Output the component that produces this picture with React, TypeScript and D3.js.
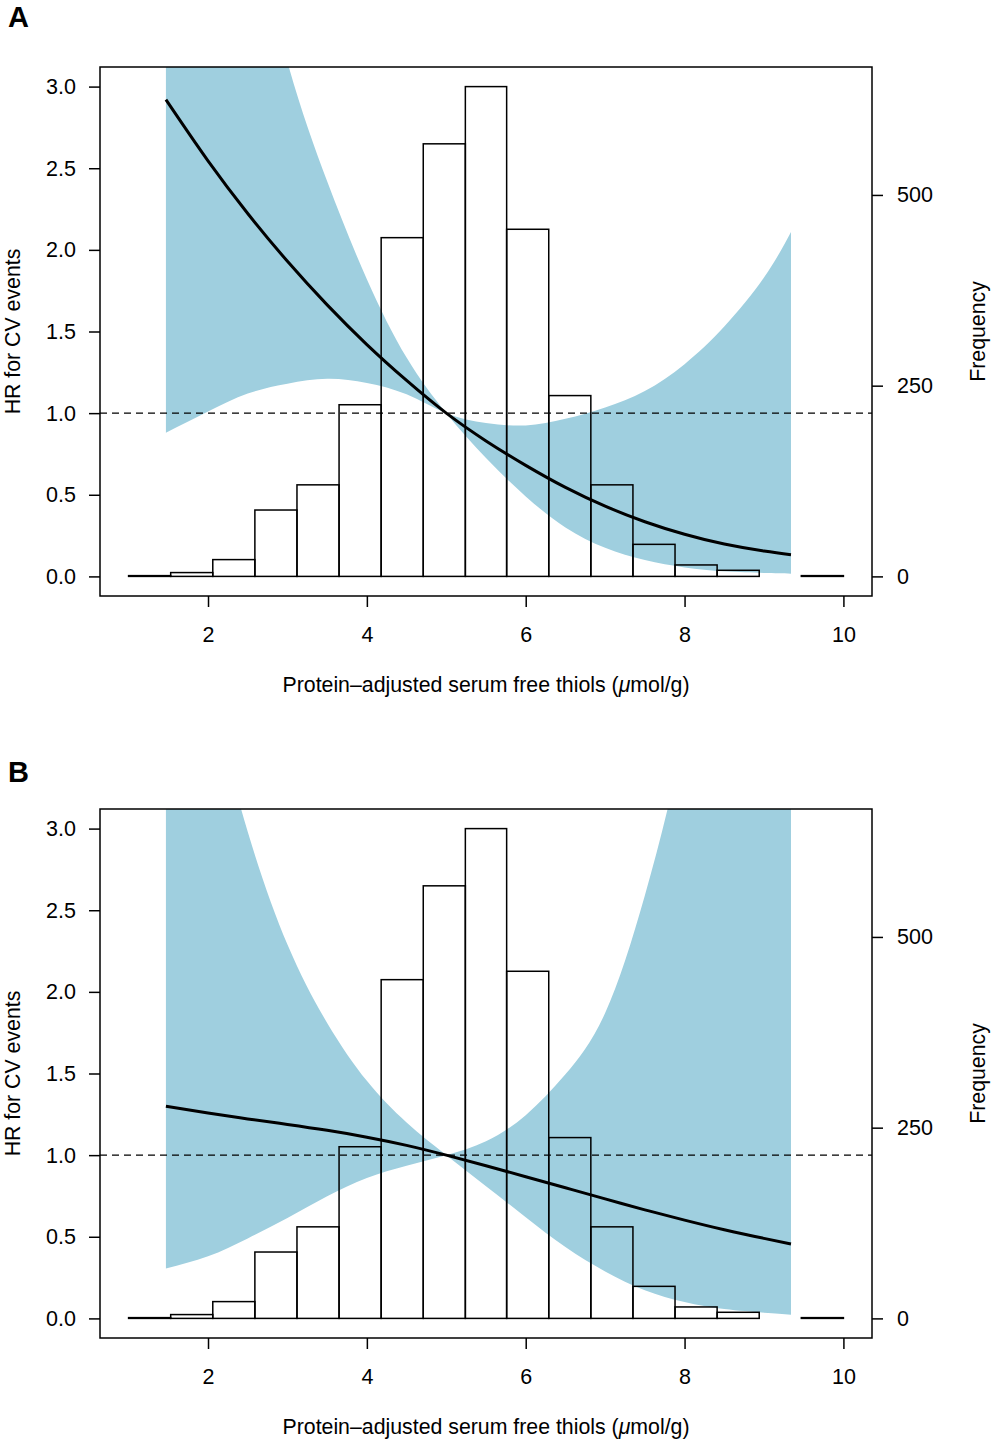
import { useEffect, useRef } from "react"
import * as d3 from "d3"

// histogram of protein-adjusted serum free thiols (same in both panels)
const binEdges = [1.0, 1.53, 2.06, 2.59, 3.12, 3.65, 4.18, 4.71, 5.24, 5.76, 6.29, 6.82, 7.35, 7.88, 8.41, 8.94, 9.47, 10.0]
const binCounts = [1, 5, 22, 87, 120, 225, 444, 567, 642, 455, 237, 120, 42, 15, 8, 0, 1]

// spline evaluation points (x) and HR with 95% CI bounds
const thiolGrid = [1.47, 2, 2.5, 3, 3.5, 4, 4.5, 5, 5.5, 6, 6.5, 7, 7.5, 8, 8.5, 9, 9.34]

const hrA = [2.92, 2.545, 2.223, 1.93, 1.663, 1.42, 1.2, 1.0, 0.83, 0.68, 0.545, 0.43, 0.335, 0.258, 0.198, 0.155, 0.133]
const ciA1 = [7.9, 5.7, 4.2, 3.15, 2.42, 1.82, 1.34, 1.0, 0.725, 0.49, 0.3, 0.175, 0.1, 0.055, 0.031, 0.021, 0.017]
const ciA2 = [0.88, 1.01, 1.12, 1.18, 1.21, 1.185, 1.115, 1.0, 0.94, 0.925, 0.965, 1.035, 1.135, 1.3, 1.53, 1.83, 2.11]

const hrB = [1.3, 1.258, 1.222, 1.188, 1.152, 1.11, 1.06, 1.0, 0.935, 0.868, 0.8, 0.732, 0.665, 0.602, 0.543, 0.49, 0.456]
const ciB1 = [5.3, 3.95, 2.98, 2.29, 1.81, 1.455, 1.2, 1.0, 0.81, 0.62, 0.437, 0.288, 0.173, 0.1, 0.057, 0.035, 0.023]
const ciB2 = [0.306, 0.38, 0.49, 0.615, 0.748, 0.86, 0.935, 1.0, 1.085, 1.245, 1.495, 1.87, 2.59, 3.58, 5.0, 7.0, 8.8]

const hrTicks = [0, 0.5, 1, 1.5, 2, 2.5, 3]
const freqTicks = [0, 250, 500]
const thiolTicks = [2, 4, 6, 8, 10]

const panels = [
  { label: "A", hr: hrA, ci1: ciA1, ci2: ciA2, offset: 0, letterY: 27 },
  { label: "B", hr: hrB, ci1: ciB1, ci2: ciB2, offset: 742, letterY: 40 },
]

const WIDTH = 992
const HEIGHT = 1443
const FONT = '"Liberation Sans", Arial, Helvetica, sans-serif'
const BAND = "#9fcfdf"

export default function App() {
  const svgRef = useRef<SVGSVGElement>(null)

  useEffect(() => {
    if (!svgRef.current) return
    const svg = d3.select(svgRef.current)
    svg.selectAll("*").remove()

    const box = { left: 100, right: 872, top: 67, bottom: 596 }

    const x = d3.scaleLinear().domain([0.64, 10.36]).range([box.left, box.right])
    const y = d3.scaleLinear().domain([-0.12, 3.12]).range([box.bottom, box.top])
    const yFreq = d3.scaleLinear().domain([-25.7, 667.7]).range([box.bottom, box.top])

    panels.forEach((p) => {
      const g = svg.append("g").attr("transform", `translate(0, ${p.offset})`)
      const clipId = `clip-${p.label}`

      g.append("clipPath")
        .attr("id", clipId)
        .append("rect")
        .attr("x", box.left)
        .attr("y", box.top)
        .attr("width", box.right - box.left)
        .attr("height", box.bottom - box.top)

      // CI band
      const band = d3
        .area<number>()
        .x((_, i) => x(thiolGrid[i]))
        .y0((_, i) => y(p.ci1[i]))
        .y1((_, i) => y(p.ci2[i]))
        .curve(d3.curveNatural)

      g.append("path")
        .datum(thiolGrid)
        .attr("d", band)
        .attr("fill", BAND)
        .attr("clip-path", `url(#${clipId})`)

      // histogram
      const bins = binCounts.map((c, i) => ({ x0: binEdges[i], x1: binEdges[i + 1], count: c })).filter((b) => b.count > 0)

      g.selectAll(".bar")
        .data(bins)
        .enter()
        .append("rect")
        .attr("class", "bar")
        .attr("x", (d) => x(d.x0))
        .attr("y", (d) => yFreq(d.count))
        .attr("width", (d) => x(d.x1) - x(d.x0))
        .attr("height", (d) => yFreq(0) - yFreq(d.count))
        .attr("fill", "none")
        .attr("stroke", "#000")
        .attr("stroke-width", 1.5)

      // reference line HR = 1
      g.append("line")
        .attr("x1", box.left)
        .attr("x2", box.right)
        .attr("y1", y(1))
        .attr("y2", y(1))
        .attr("stroke", "#000")
        .attr("stroke-width", 1.4)
        .attr("stroke-dasharray", "7,5")

      // HR curve
      const line = d3
        .line<number>()
        .x((_, i) => x(thiolGrid[i]))
        .y((_, i) => y(p.hr[i]))
        .curve(d3.curveNatural)

      g.append("path")
        .datum(thiolGrid)
        .attr("d", line)
        .attr("fill", "none")
        .attr("stroke", "#000")
        .attr("stroke-width", 3)

      // frame
      g.append("rect")
        .attr("x", box.left)
        .attr("y", box.top)
        .attr("width", box.right - box.left)
        .attr("height", box.bottom - box.top)
        .attr("fill", "none")
        .attr("stroke", "#000")
        .attr("stroke-width", 1.5)

      // axes
      const styleAxis = (a: d3.Selection<SVGGElement, unknown, null, undefined>) => {
        a.select(".domain").remove()
        a.selectAll(".tick line").attr("stroke", "#000").attr("stroke-width", 1.5)
        a.selectAll("text").attr("fill", "#000").attr("font-size", "21.5px").attr("font-family", FONT)
      }

      g.append("g")
        .attr("transform", `translate(${box.left}, 0)`)
        .call(d3.axisLeft(y).tickValues(hrTicks).tickSize(11).tickPadding(13).tickFormat(d3.format(".1f")))
        .call(styleAxis)

      g.append("g")
        .attr("transform", `translate(${box.right}, 0)`)
        .call(d3.axisRight(yFreq).tickValues(freqTicks).tickSize(11).tickPadding(14).tickFormat(d3.format("d")))
        .call(styleAxis)

      g.append("g")
        .attr("transform", `translate(0, ${box.bottom})`)
        .call(d3.axisBottom(x).tickValues(thiolTicks).tickSize(11).tickPadding(20).tickFormat(d3.format("d")))
        .call(styleAxis)

      // axis titles
      const midY = (box.top + box.bottom) / 2

      g.append("text")
        .attr("transform", `translate(20, ${midY}) rotate(-90)`)
        .attr("text-anchor", "middle")
        .attr("font-family", FONT)
        .attr("font-size", "21.3px")
        .text("HR for CV events")

      g.append("text")
        .attr("transform", `translate(985, ${midY}) rotate(-90)`)
        .attr("text-anchor", "middle")
        .attr("font-family", FONT)
        .attr("font-size", "21.3px")
        .text("Frequency")

      const xTitle = g
        .append("text")
        .attr("x", (box.left + box.right) / 2)
        .attr("y", 692)
        .attr("text-anchor", "middle")
        .attr("font-family", FONT)
        .attr("font-size", "21.3px")
      xTitle.append("tspan").text("Protein\u2013adjusted serum free thiols (")
      xTitle.append("tspan").attr("font-style", "italic").text("\u03bc")
      xTitle.append("tspan").text("mol/g)")

      // panel letter
      g.append("text")
        .attr("x", 8)
        .attr("y", p.letterY)
        .attr("font-family", FONT)
        .attr("font-weight", "bold")
        .attr("font-size", "29px")
        .text(p.label)
    })
  }, [])

  return (
    <div style={{ position: "absolute", left: 0, top: 0, background: "#fff" }}>
      <svg ref={svgRef} width={WIDTH} height={HEIGHT} />
    </div>
  )
}
